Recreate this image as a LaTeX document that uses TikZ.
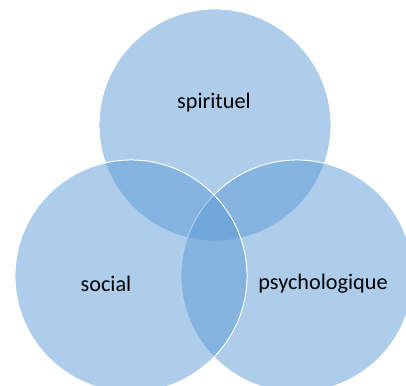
\documentclass[tikz,border=0pt]{standalone}
\usepackage{fontspec}
\setmainfont{Carlito}
\usepackage{tikz}
\usetikzlibrary{positioning}
\definecolor{vennblue}{HTML}{5B9BD5}

\begin{document}
\begin{tikzpicture}[
    % GLOBAL CFG
    x=0.025cm, y=-0.025cm,
    font=\fontsize{15.8}{19}\selectfont,
    % Styles
    set/.style={% For the three circles
        circle,
        draw=white,
        line width=0.7pt,
        fill=vennblue,
        fill opacity=0.5,
        inner sep=0pt,
        minimum size=5.8cm,
        },
    setlabel/.style={% For the names of the circles
        text=black,
        inner sep=1pt,
        },
    ]

    % Fix the page size
    \useasboundingbox (0,0) rectangle (406,386);
    \clip (0,0) rectangle (406,386);

    % Draw the circles:
    \node [set] (spirit) at (215,125) {};
    \node [set] (psycho) at (297,276) {};
    \node [set] (social) at (131,276) {};

    % Names
    \node [setlabel] (spiritlabel) at (214,103) {spirituel};
    \node [setlabel] (sociallabel) at (106,284) {social};
    \node [setlabel] (psycholabel) at (323,284) {psychologique};
\end{tikzpicture}
\end{document}
